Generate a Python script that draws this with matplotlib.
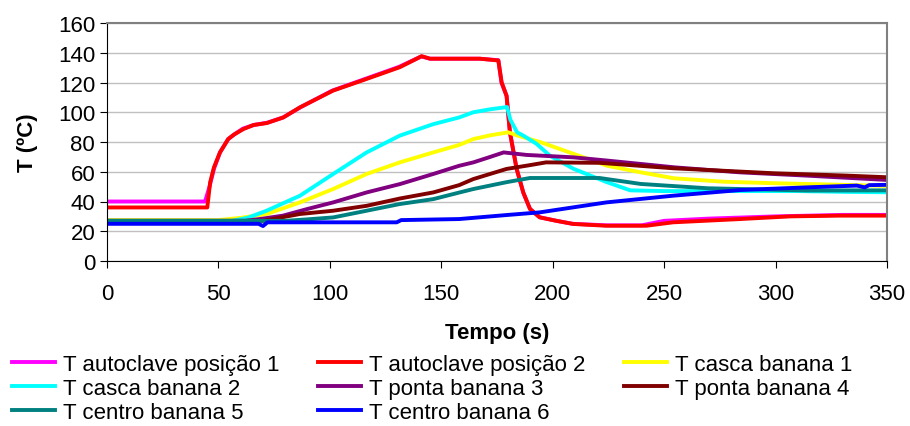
import numpy as np
import matplotlib
matplotlib.use('Agg')
from matplotlib import pyplot as plt

plt.rcParams['font.family'] = ['Liberation Sans', 'DejaVu Sans']

# séries (tempo em s, temperatura em ºC)
t_aut1 = [0, 44, 46, 48, 50.7, 54.4, 57, 61, 66, 72, 79, 87, 101, 116, 131, 141, 145, 167, 175.6, 177, 179.3, 180.8, 183.8, 186.8, 189.8, 194, 201.7, 209, 224, 240, 250, 270, 300, 330, 350]
T_aut1 = [40, 40, 50, 62, 73, 82, 85, 89, 91.5, 93, 96.5, 103.5, 114.5, 122.5, 130.5, 137.5, 136, 136, 135, 120, 111, 86.5, 62, 46, 35, 29.5, 27, 25, 24, 24, 27, 28.5, 30, 31, 31]

t_aut2 = [0, 45, 46.3, 48, 50.7, 54.4, 57, 61.2, 65.7, 71.6, 79.1, 86.6, 101.5, 116.5, 131.4, 141.2, 144.9, 167.4, 175.6, 177.1, 179.3, 180.8, 183.8, 186.8, 189.8, 194.2, 201.7, 209.2, 224, 242, 254, 284, 306.5, 329, 350]
T_aut2 = [36, 36, 53, 63, 73, 82, 85, 88.7, 91.4, 92.7, 96.5, 103.3, 114.6, 122.4, 130.3, 137.7, 136, 136, 134.8, 120, 111, 86.5, 62, 46, 35, 29.3, 27, 24.9, 23.7, 23.7, 26, 28.2, 30, 30.5, 30.5]

t_casca1 = [0, 50, 60, 71.6, 86.6, 101.5, 116.5, 131.4, 146.4, 158, 164.4, 172, 180, 185, 194.7, 209.6, 224.5, 239.5, 254.4, 276.8, 299, 336.5, 350]
T_casca1 = [27.5, 27.5, 29, 31.6, 39.4, 48.4, 58.5, 66.3, 73, 78, 82, 84.5, 86.5, 84, 79.8, 71.9, 64, 59.6, 55.6, 53.3, 52.3, 51, 50.5]

t_casca2 = [0, 56, 63, 71.6, 86.6, 101.5, 116.5, 131.4, 146.4, 158, 164.4, 172, 179.5, 181, 184, 186.8, 192.8, 198.7, 209.3, 224.3, 234.8, 250, 280, 310, 330, 350]
T_casca2 = [27, 27, 29, 33.8, 43.9, 58.5, 73, 84.3, 92, 96.5, 100, 102, 103.5, 95, 86.5, 84.3, 78.7, 70.8, 62, 53, 47.5, 47, 47, 47, 46.5, 46.2]

t_ponta3 = [0, 62, 70, 79, 90, 101.5, 116.5, 131.4, 146.4, 158, 164.4, 172, 178, 188.3, 209.2, 224.5, 254.4, 284, 314, 350]
T_ponta3 = [27, 27, 28.5, 30.5, 35, 39.4, 46.1, 51.7, 58.5, 64, 66.3, 70, 73, 71.3, 69.7, 67.5, 63, 59.6, 57.4, 54.5]

t_ponta4 = [0, 70, 86.6, 101.5, 116.5, 131.4, 146.4, 158, 164.4, 179.3, 190, 197, 221, 254.4, 299, 330, 350]
T_ponta4 = [27, 27, 31.6, 33.8, 37.1, 42, 46.1, 51, 55.1, 61.9, 64.5, 66.3, 66, 62.3, 59, 57.5, 56.3]

t_centro5 = [0, 80, 90, 101.5, 116.5, 131.4, 146.4, 158, 164.4, 179.3, 189.8, 221, 239.5, 269.4, 314, 350]
T_centro5 = [27, 27, 28, 29.3, 33.8, 38.3, 41.6, 46, 48.4, 53, 55.8, 55.8, 51.8, 48.9, 47.4, 47.5]

t_centro6 = [0, 68, 70, 72, 130, 132, 158, 179.3, 194.2, 224.1, 254, 284, 314, 336.5, 340, 342, 350]
T_centro6 = [25, 25, 23.5, 26, 26, 27.5, 28.2, 30.9, 32.7, 39.4, 43.9, 47.7, 49.5, 50.7, 49.5, 51, 51.2]

series = [
    ('T autoclave posição 1', t_aut1, T_aut1, '#FF00FF'),
    ('T autoclave posição 2', t_aut2, T_aut2, '#FF0000'),
    ('T casca banana 1', t_casca1, T_casca1, '#FFFF00'),
    ('T casca banana 2', t_casca2, T_casca2, '#00FFFF'),
    ('T ponta banana 3', t_ponta3, T_ponta3, '#800080'),
    ('T ponta banana 4', t_ponta4, T_ponta4, '#800000'),
    ('T centro banana 5', t_centro5, T_centro5, '#008080'),
    ('T centro banana 6', t_centro6, T_centro6, '#0000FF'),
]

fig = plt.figure(figsize=(9.1, 4.27), dpi=100)
ax = fig.add_axes([107/910, 1-262/427, 780/910, 238/427])

handles = []
for nome, t, T, cor in series:
    h, = ax.plot(t, T, color=cor, lw=2.8, label=nome)
    handles.append(h)

ax.set_xlim(0, 350)
ax.set_ylim(0, 160)
ax.set_xticks(np.arange(0, 351, 50))
ax.set_yticks(np.arange(0, 161, 20))
ax.yaxis.grid(True, color='#c0c0c0', lw=1)
ax.set_axisbelow(True)
ax.tick_params(labelsize=16, length=5, direction='out', color='black')
ax.tick_params(axis='x', pad=11)
for s in ['top', 'right']:
    ax.spines[s].set_color('#808080')
    ax.spines[s].set_linewidth(1.5)
for s in ['left', 'bottom']:
    ax.spines[s].set_color('black')

ax.set_ylabel('T (ºC)', fontsize=16, fontweight='bold', labelpad=14)
ax.set_xlabel('Tempo (s)', fontsize=16, fontweight='bold', labelpad=13)

# ordem por linhas (matplotlib preenche por colunas)
ordem = [0, 3, 6, 1, 4, 7, 2, 5]
fig.legend([handles[i] for i in ordem], [series[i][0] for i in ordem],
           loc='upper left', bbox_to_anchor=(12/910, 1-355/427), ncol=3,
           frameon=False, fontsize=16, handlelength=1.95, handletextpad=0.36,
           columnspacing=1.72, labelspacing=0.14, borderpad=0, borderaxespad=0)

fig.savefig('out.png', dpi=100)
